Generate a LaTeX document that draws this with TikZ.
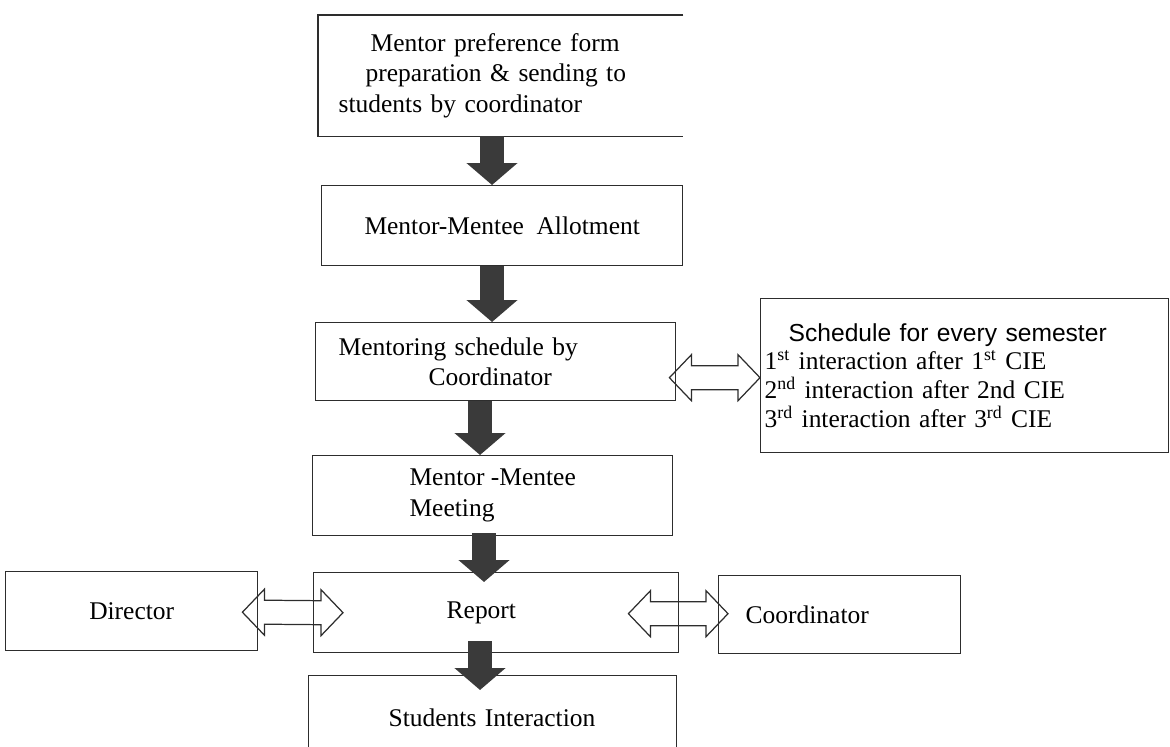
\documentclass[tikz,border=0pt]{standalone}
\usepackage{fontspec}
\setmainfont{Liberation Serif}
\setsansfont{Liberation Sans}
\usetikzlibrary{arrows.meta,calc}
\definecolor{inkgray}{RGB}{58,58,58}
\definecolor{linegray}{RGB}{45,45,45}
\newcommand{\px}{0.02cm}
% hollow double arrow between two named points
\newcommand{\twoway}[2]{%
  \draw[linegray,line width=0.7pt,line join=miter] (#1) -- ++(22,-23) -- ++(0,11) -- ($(#2)+(-22,-12)$)
    -- ++(0,-11) -- (#2) -- ++(-22,23) -- ++(0,-11) -- ($(#1)+(22,12)$) -- ++(0,11) -- cycle;}

\begin{document}
\begin{tikzpicture}[x=\px,y=-\px,
    box/.style={draw=linegray,line width=0.8pt,inner sep=0pt,anchor=north west,
      font=\fontsize{14.5}{17.5}\selectfont},
    fatarrow/.style={inkgray,line width=24*\px,-{Triangle[width=50*\px,length=22*\px]}}]
  \clip (0,0) rectangle (1170,747);

  % main column
  \node[box,draw=none,minimum width=364*\px,minimum height=120*\px,align=left,
    inner xsep=20*\px,text width=324*\px] (prep) at (318,15)
    {\hspace*{0.64cm}Mentor preference form\\ \hspace*{0.54cm}preparation \& sending to\\ students by coordinator};
  \draw[linegray,line width=0.8pt] (prep.north east) -- (prep.north west) -- (prep.south west) -- (prep.south east);
  \node[box,minimum width=361*\px,minimum height=80*\px] (allot) at (321,185) {Mentor-Mentee\ \ Allotment};
  \node[box,minimum width=360*\px,minimum height=78*\px,align=left,
    inner xsep=23*\px,text width=314*\px] (sched) at (315,322)
    {Mentoring schedule by\\ \hspace*{1.8cm}Coordinator};
  \node[box,minimum width=360*\px,minimum height=80*\px,align=left] (meet) at (312,455)
    {Mentor -Mentee\\ Meeting};
  \node[box,minimum width=365*\px,minimum height=80*\px,align=left,
    inner xsep=133*\px,text width=99*\px] (report) at (313,572) {Report};
  \node[box,minimum width=368*\px,minimum height=84*\px,align=left,
    inner xsep=80*\px,text width=208*\px] (stud) at (308,675) {Students Interaction};

  % side boxes
  \node[box,minimum width=252*\px,minimum height=79*\px] (dir) at (5,571) {Director};
  \node[box,minimum width=242*\px,minimum height=78*\px,align=left,
    inner xsep=27*\px,text width=188*\px] (coord) at (718,575) {Coordinator};
  \node[box,minimum width=408*\px,minimum height=154*\px,align=left,
    inner xsep=4*\px,text width=400*\px,font=\fontsize{14.5}{16.5}\selectfont] (list) at (760,298)
    {\hspace*{0.48cm}{\sffamily\fontsize{14}{16.5}\selectfont Schedule for every semester}\\
     1\textsuperscript{st} interaction after 1\textsuperscript{st} CIE\\
     2\textsuperscript{nd} interaction after 2nd CIE\\
     3\textsuperscript{rd} interaction after 3\textsuperscript{rd} CIE\\[0.2cm]};

  % down arrows
  \draw[fatarrow] (492,0 |- prep.south) -- (492,0 |- allot.north);
  \draw[fatarrow] (492,0 |- allot.south) -- (492,0 |- sched.north);
  \draw[fatarrow] (480,0 |- sched.south) -- (480,0 |- meet.north);
  \draw[fatarrow] ($(484,0 |- meet.south)+(0,-3)$) -- ($(484,0 |- report.north)+(0,10)$);
  \draw[fatarrow] ($(480,0 |- report.south)+(0,-12)$) -- ($(480,0 |- stud.north)+(0,15)$);

  % two-way arrows
  \coordinate (sl) at ($(sched.east)+(-7,16)$);
  \coordinate (sr) at (sl -| list.west);
  \coordinate (dl) at ($(dir.east)+(-16,1)$);
  \coordinate (dr) at ($(report.west)+(30,0)$);
  \coordinate (rl) at ($(report.east)+(-51,1)$);
  \coordinate (rr) at ($(coord.west)+(10,-1)$);
  \twoway{sl}{sr}
  \twoway{dl}{dr}
  \twoway{rl}{rr}
\end{tikzpicture}
\end{document}
